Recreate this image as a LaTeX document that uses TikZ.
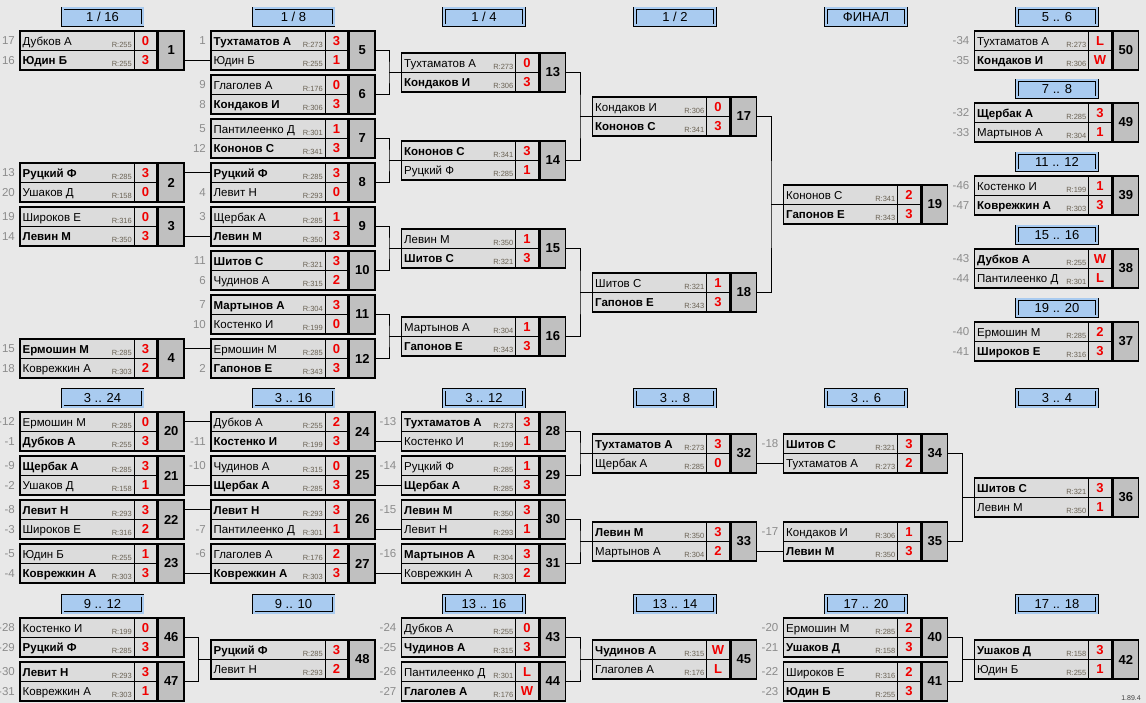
\documentclass[tikz,border=0pt]{standalone}
\usepackage{fontspec}
\setmainfont{Liberation Sans}
\definecolor{bgc}{HTML}{E8E8E8}
\definecolor{cellc}{HTML}{DCDCDC}
\definecolor{numc}{HTML}{C0C0C0}
\definecolor{hdrc}{HTML}{A9CBF0}
\definecolor{seedc}{HTML}{8C8C8C}
\definecolor{ratc}{HTML}{6B6355}
\definecolor{scc}{HTML}{F00000}
\tikzset{
 rowcell/.style={fill=cellc, draw=black, line width=0.6pt, minimum width=137pt, minimum height=19.5pt, inner sep=0pt, outer sep=0pt},
 numcell/.style={fill=numc, draw=black, line width=1.8pt, minimum width=25.5pt, minimum height=39pt, inner sep=0pt, outer sep=0pt, font=\fontsize{13}{15}\selectfont\bfseries},
 boxnode/.style={minimum width=164pt, minimum height=39pt, inner sep=0pt, outer sep=0pt},
 boxframe/.style={draw=black, line width=1.8pt},
 nm/.style={inner sep=0pt, anchor=base west, font=\fontsize{11.5}{13}\selectfont},
 rt/.style={inner sep=0pt, anchor=base east, text=ratc, font=\fontsize{7.5}{8}\selectfont},
 sc/.style={inner sep=0pt, anchor=base, text=scc, font=\fontsize{13}{14}\selectfont\bfseries},
 seed/.style={inner sep=0pt, anchor=east, text=seedc, font=\fontsize{11.5}{12}\selectfont},
 hdr/.style={draw=black, double=hdrc, double distance=2pt, line width=0.7pt, fill=hdrc, minimum width=80pt, minimum height=17pt, inner sep=0pt, font=\fontsize{13}{15}\selectfont},
 conn/.style={draw=black, line width=0.9pt},
}
% #1 id, #2 x,y, #3 name1, #4 r1, #5 s1, #6 name2, #7 r2, #8 s2
\newcommand\mtch[8]{%
\begin{scope}[shift={(#2)}]
 \node[rowcell,anchor=north west] (m#1a) at (0,0) {};
 \node[rowcell,anchor=north west] (m#1b) at (0,19.5) {};
 \draw[line width=0.6pt] (114,0) -- (114,39);
 \draw[boxframe] (0,0) rectangle (137,39);
 \node[boxnode,anchor=north west] (m#1) at (0,0) {};
 \node[numcell,anchor=north west] (m#1n) at (138.5,0) {#1};
 \node[nm] (m#1an) at (2.5,14.5) {#3};
 \node[rt] (m#1ar) at (112,16.5) {R:#4};
 \node[sc] (m#1as) at (125.5,14.5) {#5};
 \node[nm] (m#1bn) at (2.5,33.5) {#6};
 \node[rt] (m#1br) at (112,35.5) {R:#7};
 \node[sc] (m#1bs) at (125.5,33.5) {#8};
\end{scope}}
% header: #1 id, #2 x,y centre, #3 text
\newcommand\hdrbox[3]{\node[hdr] (h#1) at (#2) {#3};}
% seed label: #1 id+row, #2 text
\newcommand\seedlbl[2]{\node[seed] (s#1) at ([xshift=-5pt]m#1.west) {#2};}
\newcommand\mybrk[3]{\draw[conn] (m#1.east) -| ([xshift=-12.5pt]m#3.west) |- (m#2.east); \draw[conn] ([xshift=-12.5pt]m#3.west) -- (m#3.west);}
\newcommand\mystr[2]{\draw[conn] (m#1.east |- m#2.west) -- (m#2.west);}
\begin{document}
\begin{tikzpicture}[x=1pt,y=-1pt]
\useasboundingbox (0,0) rectangle (1146,703);
\fill[bgc] (0,0) rectangle (1146,703);
% headers
\hdrbox{a1}{102.5,17}{1 / 16}
\hdrbox{a2}{293.5,17}{1 / 8}
\hdrbox{a3}{484,17}{1 / 4}
\hdrbox{a4}{675,17}{1 / 2}
\hdrbox{a5}{866,17}{ФИНАЛ}
\hdrbox{a6}{1057,17}{5 .. 6}
\hdrbox{a7}{1057,89}{7 .. 8}
\hdrbox{a8}{1057,162}{11 .. 12}
\hdrbox{a9}{1057,235}{15 .. 16}
\hdrbox{a10}{1057,308}{19 .. 20}
\hdrbox{b1}{102.5,398}{3 .. 24}
\hdrbox{b2}{293.5,398}{3 .. 16}
\hdrbox{b3}{484,398}{3 .. 12}
\hdrbox{b4}{675,398}{3 .. 8}
\hdrbox{b5}{866,398}{3 .. 6}
\hdrbox{b6}{1057,398}{3 .. 4}
\hdrbox{c1}{102.5,604}{9 .. 12}
\hdrbox{c2}{293.5,604}{9 .. 10}
\hdrbox{c3}{484,604}{13 .. 16}
\hdrbox{c4}{675,604}{13 .. 14}
\hdrbox{c5}{866,604}{17 .. 20}
\hdrbox{c6}{1057,604}{17 .. 18}
% top section
\mtch{1}{20,31}{Дубков А}{255}{0}{\textbf{Юдин Б}}{255}{3}
\mtch{2}{20,163}{\textbf{Руцкий Ф}}{285}{3}{Ушаков Д}{158}{0}
\mtch{3}{20,207}{Широков Е}{316}{0}{\textbf{Левин М}}{350}{3}
\mtch{4}{20,339}{\textbf{Ермошин М}}{285}{3}{Коврежкин А}{303}{2}
\mtch{5}{211,31}{\textbf{Тухтаматов А}}{273}{3}{Юдин Б}{255}{1}
\mtch{6}{211,75}{Глаголев А}{176}{0}{\textbf{Кондаков И}}{306}{3}
\mtch{7}{211,119}{Пантилеенко Д}{301}{1}{\textbf{Кононов С}}{341}{3}
\mtch{8}{211,163}{\textbf{Руцкий Ф}}{285}{3}{Левит Н}{293}{0}
\mtch{9}{211,207}{Щербак А}{285}{1}{\textbf{Левин М}}{350}{3}
\mtch{10}{211,251}{\textbf{Шитов С}}{321}{3}{Чудинов А}{315}{2}
\mtch{11}{211,295}{\textbf{Мартынов А}}{304}{3}{Костенко И}{199}{0}
\mtch{12}{211,339}{Ермошин М}{285}{0}{\textbf{Гапонов Е}}{343}{3}
\mtch{13}{401.5,53}{Тухтаматов А}{273}{0}{\textbf{Кондаков И}}{306}{3}
\mtch{14}{401.5,141}{\textbf{Кононов С}}{341}{3}{Руцкий Ф}{285}{1}
\mtch{15}{401.5,229}{Левин М}{350}{1}{\textbf{Шитов С}}{321}{3}
\mtch{16}{401.5,317}{Мартынов А}{304}{1}{\textbf{Гапонов Е}}{343}{3}
\mtch{17}{592.5,97}{Кондаков И}{306}{0}{\textbf{Кононов С}}{341}{3}
\mtch{18}{592.5,273}{Шитов С}{321}{1}{\textbf{Гапонов Е}}{343}{3}
\mtch{19}{783.5,185}{Кононов С}{341}{2}{\textbf{Гапонов Е}}{343}{3}
\mtch{50}{974.5,31}{Тухтаматов А}{273}{L}{\textbf{Кондаков И}}{306}{W}
\mtch{49}{974.5,103}{\textbf{Щербак А}}{285}{3}{Мартынов А}{304}{1}
\mtch{39}{974.5,176}{Костенко И}{199}{1}{\textbf{Коврежкин А}}{303}{3}
\mtch{38}{974.5,249}{\textbf{Дубков А}}{255}{W}{Пантилеенко Д}{301}{L}
\mtch{37}{974.5,322}{Ермошин М}{285}{2}{\textbf{Широков Е}}{316}{3}
% lower section
\mtch{20}{20,412}{Ермошин М}{285}{0}{\textbf{Дубков А}}{255}{3}
\mtch{21}{20,456}{\textbf{Щербак А}}{285}{3}{Ушаков Д}{158}{1}
\mtch{22}{20,500}{\textbf{Левит Н}}{293}{3}{Широков Е}{316}{2}
\mtch{23}{20,544}{Юдин Б}{255}{1}{\textbf{Коврежкин А}}{303}{3}
\mtch{24}{211,412}{Дубков А}{255}{2}{\textbf{Костенко И}}{199}{3}
\mtch{25}{211,456}{Чудинов А}{315}{0}{\textbf{Щербак А}}{285}{3}
\mtch{26}{211,500}{\textbf{Левит Н}}{293}{3}{Пантилеенко Д}{301}{1}
\mtch{27}{211,544}{Глаголев А}{176}{2}{\textbf{Коврежкин А}}{303}{3}
\mtch{28}{401.5,412}{\textbf{Тухтаматов А}}{273}{3}{Костенко И}{199}{1}
\mtch{29}{401.5,456}{Руцкий Ф}{285}{1}{\textbf{Щербак А}}{285}{3}
\mtch{30}{401.5,500}{\textbf{Левин М}}{350}{3}{Левит Н}{293}{1}
\mtch{31}{401.5,544}{\textbf{Мартынов А}}{304}{3}{Коврежкин А}{303}{2}
\mtch{32}{592.5,434}{\textbf{Тухтаматов А}}{273}{3}{Щербак А}{285}{0}
\mtch{33}{592.5,522}{\textbf{Левин М}}{350}{3}{Мартынов А}{304}{2}
\mtch{34}{783.5,434}{\textbf{Шитов С}}{321}{3}{Тухтаматов А}{273}{2}
\mtch{35}{783.5,522}{Кондаков И}{306}{1}{\textbf{Левин М}}{350}{3}
\mtch{36}{974.5,478}{\textbf{Шитов С}}{321}{3}{Левин М}{350}{1}
% bottom section
\mtch{46}{20,618}{Костенко И}{199}{0}{\textbf{Руцкий Ф}}{285}{3}
\mtch{47}{20,662}{\textbf{Левит Н}}{293}{3}{Коврежкин А}{303}{1}
\mtch{48}{211,640}{\textbf{Руцкий Ф}}{285}{3}{Левит Н}{293}{2}
\mtch{43}{401.5,618}{Дубков А}{255}{0}{\textbf{Чудинов А}}{315}{3}
\mtch{44}{401.5,662}{Пантилеенко Д}{301}{L}{\textbf{Глаголев А}}{176}{W}
\mtch{45}{592.5,640}{\textbf{Чудинов А}}{315}{W}{Глаголев А}{176}{L}
\mtch{40}{783.5,618}{Ермошин М}{285}{2}{\textbf{Ушаков Д}}{158}{3}
\mtch{41}{783.5,662}{Широков Е}{316}{2}{\textbf{Юдин Б}}{255}{3}
\mtch{42}{974.5,640}{\textbf{Ушаков Д}}{158}{3}{Юдин Б}{255}{1}
% seeds
\seedlbl{1a}{17}\seedlbl{1b}{16}\seedlbl{2a}{13}\seedlbl{2b}{20}
\seedlbl{3a}{19}\seedlbl{3b}{14}\seedlbl{4a}{15}\seedlbl{4b}{18}
\seedlbl{5a}{1}\seedlbl{6a}{9}\seedlbl{6b}{8}\seedlbl{7a}{5}\seedlbl{7b}{12}
\seedlbl{8b}{4}\seedlbl{9a}{3}\seedlbl{10a}{11}\seedlbl{10b}{6}
\seedlbl{11a}{7}\seedlbl{11b}{10}\seedlbl{12b}{2}
\seedlbl{50a}{-34}\seedlbl{50b}{-35}\seedlbl{49a}{-32}\seedlbl{49b}{-33}
\seedlbl{39a}{-46}\seedlbl{39b}{-47}\seedlbl{38a}{-43}\seedlbl{38b}{-44}
\seedlbl{37a}{-40}\seedlbl{37b}{-41}
\seedlbl{20a}{-12}\seedlbl{20b}{-1}\seedlbl{21a}{-9}\seedlbl{21b}{-2}
\seedlbl{22a}{-8}\seedlbl{22b}{-3}\seedlbl{23a}{-5}\seedlbl{23b}{-4}
\seedlbl{24b}{-11}\seedlbl{25a}{-10}\seedlbl{26b}{-7}\seedlbl{27a}{-6}
\seedlbl{28a}{-13}\seedlbl{29a}{-14}\seedlbl{30a}{-15}\seedlbl{31a}{-16}
\seedlbl{34a}{-18}\seedlbl{35a}{-17}
\seedlbl{46a}{-28}\seedlbl{46b}{-29}\seedlbl{47a}{-30}\seedlbl{47b}{-31}
\seedlbl{43a}{-24}\seedlbl{43b}{-25}\seedlbl{44a}{-26}\seedlbl{44b}{-27}
\seedlbl{40a}{-20}\seedlbl{40b}{-21}\seedlbl{41a}{-22}\seedlbl{41b}{-23}
% connectors
\mystr{1}{5b}\mystr{2}{8a}\mystr{3}{9b}\mystr{4}{12a}
\mybrk{5}{6}{13}\mybrk{7}{8}{14}\mybrk{9}{10}{15}\mybrk{11}{12}{16}
\mybrk{13}{14}{17}\mybrk{15}{16}{18}\mybrk{17}{18}{19}
\mystr{20}{24a}\mystr{21}{25b}\mystr{22}{26a}\mystr{23}{27b}
\mystr{24}{28b}\mystr{25}{29b}\mystr{26}{30b}\mystr{27}{31b}
\mybrk{28}{29}{32}\mybrk{30}{31}{33}
\mystr{32}{34b}\mystr{33}{35b}
\mybrk{34}{35}{36}
\mybrk{46}{47}{48}\mybrk{43}{44}{45}\mybrk{40}{41}{42}
\node[font=\fontsize{7}{8}\selectfont, text=black!75, inner sep=0pt, anchor=base east] (ver) at (1141,700) {1.89.4};
\end{tikzpicture}
\end{document}
